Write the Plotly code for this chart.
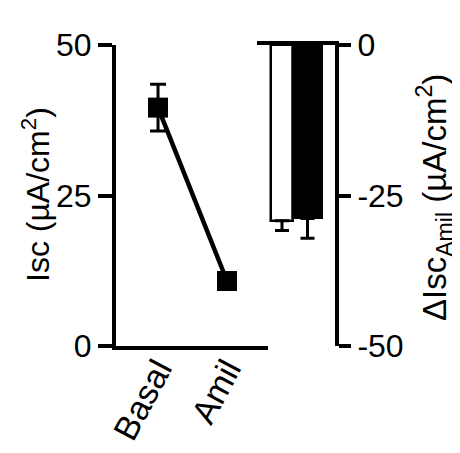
import plotly.graph_objects as go

# ---- data ----
line_categories = ["Basal", "Amil"]
isc_values = [39.6, 10.8]
isc_sem = [3.9, 0.4]

bar_groups = ["Control", "Treated"]
delta_isc_values = [-29.2, -28.8]
delta_isc_sem = [1.6, 3.3]

left_ticks = [0, 25, 50]
right_ticks = [0, -25, -50]

W, H = 460, 453
OFF = 8  # page body margin
def px(x):
    return (x - OFF) / W
def py(y):
    return (H - (y - OFF)) / H

FONT = "Arial, Liberation Sans, sans-serif"

fig = go.Figure()

# left panel: line with markers
fig.add_trace(go.Scatter(
    x=[0, 1], y=isc_values,
    mode="lines+markers",
    line=dict(color="black", width=4.5),
    marker=dict(symbol="square", size=20, color="black"),
    error_y=dict(type="data", array=isc_sem, visible=True,
                 color="black", thickness=3, width=8),
    xaxis="x", yaxis="y", showlegend=False,
))

# right panel: bars
fig.add_trace(go.Bar(
    x=[0, 1], y=delta_isc_values,
    width=[0.86, 1.14],
    marker=dict(color=["white", "black"], line=dict(color="black", width=2.5)),
    error_y=dict(type="data", symmetric=False, array=[0, 0],
                 arrayminus=delta_isc_sem, visible=True,
                 color="black", thickness=3, width=7),
    xaxis="x2", yaxis="y2", showlegend=False,
))

y_dom = [py(346), py(45)]

fig.update_layout(
    template="none",
    width=W, height=H,
    margin=dict(l=0, r=0, t=0, b=0, autoexpand=False),
    paper_bgcolor="white", plot_bgcolor="white",
    font=dict(family=FONT, color="black", size=32),
    bargap=0,
    xaxis=dict(
        domain=[px(116), px(268)],
        range=[-0.609, 1.594], automargin=False,
        tickmode="array", tickvals=[0, 1], ticktext=line_categories,
        tickangle=-62, ticks="", showline=True, linecolor="black", linewidth=4,
        ticklabelstandoff=-14,
        showgrid=False, zeroline=False, anchor="y",
        tickfont=dict(size=34, family=FONT),
    ),
    yaxis=dict(
        domain=y_dom, range=[0, 50], automargin=False,
        tickmode="array", tickvals=left_ticks,
        ticks="outside", ticklen=14, tickwidth=4, tickcolor="black",
        showline=True, linecolor="black", linewidth=4,
        showgrid=False, zeroline=False, anchor="x",
        tickfont=dict(size=32, family=FONT),
    ),
    xaxis2=dict(
        domain=[px(257), px(335)],
        range=[-0.98, 2.078], automargin=False,
        showticklabels=False, ticks="", side="top",
        showline=True, linecolor="black", linewidth=4,
        showgrid=False, zeroline=False, anchor="y2",
    ),
    yaxis2=dict(
        domain=y_dom, range=[-50, 0], side="right", automargin=False,
        tickmode="array", tickvals=right_ticks,
        ticktext=["0", "-25", "-50"],
        ticks="outside", ticklen=12, tickwidth=4, tickcolor="black",
        showline=True, linecolor="black", linewidth=4,
        showgrid=False, zeroline=False, anchor="x2",
        tickfont=dict(size=32, family=FONT),
    ),
    annotations=[
        dict(text="Isc (µA/cm<sup>2</sup>)", textangle=-90,
             xref="paper", yref="paper", x=px(36), y=py(195),
             xanchor="center", yanchor="middle", showarrow=False,
             font=dict(size=32, family=FONT)),
        dict(text="ΔIsc<sub>Amil</sub> (µA/cm<sup>2</sup>)", textangle=-90,
             xref="paper", yref="paper", x=px(434), y=py(198),
             xanchor="center", yanchor="middle", showarrow=False,
             font=dict(size=33, family=FONT)),
    ],
)

fig.write_html("out.html")
